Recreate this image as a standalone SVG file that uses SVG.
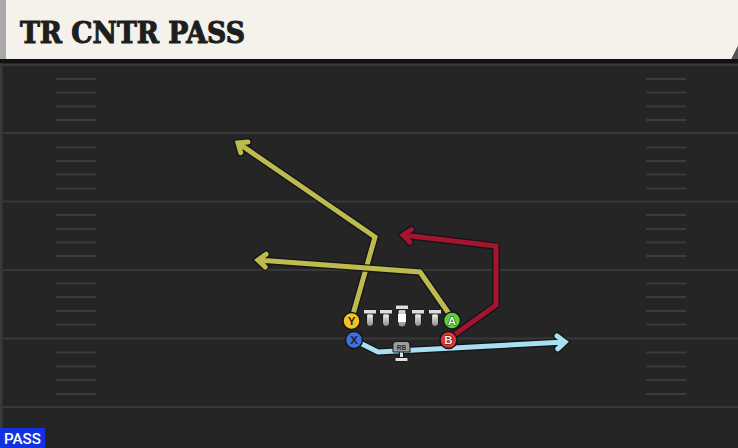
<svg xmlns="http://www.w3.org/2000/svg" width="738" height="448" viewBox="0 0 738 448">
<defs>
<linearGradient id="body" x1="0" y1="0" x2="0" y2="1">
<stop offset="0" stop-color="#d8d8d8"/>
<stop offset="0.5" stop-color="#c4c4c4"/>
<stop offset="1" stop-color="#8c8c8c"/>
</linearGradient>
<style>
.yard{stroke:#383838;stroke-width:2}
.hash{stroke:#3b3b3b;stroke-width:2}
.out{fill:none;stroke:#121218;stroke-width:7.5;stroke-linejoin:miter;stroke-linecap:round}
.rt{fill:none;stroke-width:5;stroke-linejoin:miter;stroke-linecap:round}
.yel{stroke:#bdbb4e}
.red{stroke:#a5142e}
.blu{stroke:#a8e0f0}
.pc{stroke:#15151c;stroke-width:1.5}
.pl{font-family:"Liberation Sans",Arial,sans-serif;font-weight:bold;font-size:11.5px;text-anchor:middle}
.ol{fill:#dedede;stroke:#1a1a1a;stroke-width:1}
.ob{fill:url(#body);stroke:#1a1a1a;stroke-width:1}
</style>
</defs>
<rect x="0" y="0" width="738" height="448" fill="#252525"/>
<rect x="0" y="60" width="2.5" height="388" fill="#3a3a3a"/>
<g id="header">
<path d="M0 0 H738 V46 L731 60 H0 Z" fill="#f5f2eb"/>
<rect x="0" y="0" width="6" height="60" fill="#a9aaa8"/>
<path d="M731 60 L738 46 V62 Z" fill="#555"/>
<rect x="0" y="59" width="738" height="4" fill="#121212"/>
<text x="20" y="43" font-family="'DejaVu Serif','Liberation Serif',serif" font-weight="bold" font-size="29" fill="#1e1e1e" stroke="#1e1e1e" stroke-width="1.1" textLength="225" lengthAdjust="spacingAndGlyphs">TR CNTR PASS</text>
</g>
<g id="field">
<line class="yard" x1="0" y1="65" x2="738" y2="65"/>
<line class="yard" x1="0" y1="133" x2="738" y2="133"/>
<line class="yard" x1="0" y1="201.5" x2="738" y2="201.5"/>
<line class="yard" x1="0" y1="270" x2="738" y2="270"/>
<line class="yard" x1="0" y1="338.5" x2="738" y2="338.5"/>
<line class="yard" x1="0" y1="407" x2="738" y2="407"/>
<g id="hash-left">
<path class="hash" d="M56 79H96M56 92.5H96M56 106.5H96M56 120H96M56 147.5H96M56 161H96M56 174.5H96M56 188.5H96M56 215H96M56 229H96M56 242.5H96M56 256H96M56 283.5H96M56 297H96M56 311H96M56 324.5H96M56 352.5H96M56 366.5H96M56 380H96M56 394H96"/>
</g>
<g id="hash-right">
<path class="hash" d="M646 79H686M646 92.5H686M646 106.5H686M646 120H686M646 147.5H686M646 161H686M646 174.5H686M646 188.5H686M646 215H686M646 229H686M646 242.5H686M646 256H686M646 283.5H686M646 297H686M646 311H686M646 324.5H686M646 352.5H686M646 366.5H686M646 380H686M646 394H686"/>
</g>
</g>
<g id="connectors">
<g id="route-y">
<path class="out" d="M352 318 L375 237 L238 143 M240.7 152.6 L238 143 L248 142"/>
<path class="rt yel" d="M352 318 L375 237 L238 143 M240.7 152.6 L238 143 L248 142"/>
</g>
<g id="route-a">
<path class="out" d="M452 318 L420 272 L258 260 M265.2 267 L258 260 L266.1 254.2"/>
<path class="rt yel" d="M452 318 L420 272 L258 260 M265.2 267 L258 260 L266.1 254.2"/>
</g>
<g id="route-b">
<path class="out" d="M450 338 L496 305 L496 246 L403 235 M409.9 242.3 L403 235 L411.4 229.5"/>
<path class="rt red" d="M450 338 L496 305 L496 246 L403 235 M409.9 242.3 L403 235 L411.4 229.5"/>
</g>
<g id="route-x">
<path class="out" d="M356 341 L378 352 L565 342 M557.7 348.8 L565 342 L557 336"/>
<path class="rt blu" d="M356 341 L378 352 L565 342 M557.7 348.8 L565 342 L557 336"/>
</g>
</g>
<g id="line">
<g id="lt"><rect class="ob" x="366.5" y="312" width="7" height="14.5" rx="3.5"/><rect class="ol" x="363.5" y="309.5" width="13" height="4.5" rx="1"/><rect x="368" y="314.5" width="4" height="3" fill="#e4e4e4"/></g>
<g id="lg"><rect class="ob" x="382.5" y="312" width="7" height="14.5" rx="3.5"/><rect class="ol" x="379.5" y="309.5" width="13" height="4.5" rx="1"/><rect x="384" y="314.5" width="4" height="3" fill="#e4e4e4"/></g>
<g id="c"><rect class="ob" x="398" y="308" width="8" height="19" rx="3.5"/><rect class="ol" x="395.5" y="305" width="13" height="4.5" rx="1"/><rect x="398" y="314" width="8" height="8" fill="#ffffff"/></g>
<g id="rg"><rect class="ob" x="414.5" y="312" width="7" height="14.5" rx="3.5"/><rect class="ol" x="411.5" y="309.5" width="13" height="4.5" rx="1"/><rect x="416" y="314.5" width="4" height="3" fill="#e4e4e4"/></g>
<g id="rt"><rect class="ob" x="431.5" y="312" width="7" height="14.5" rx="3.5"/><rect class="ol" x="428.5" y="309.5" width="13" height="4.5" rx="1"/><rect x="433" y="314.5" width="4" height="3" fill="#e4e4e4"/></g>
</g>
<g id="rb">
<rect class="ol" x="399.5" y="350" width="4" height="8"/>
<rect class="ol" x="395" y="357.5" width="13" height="4" rx="1"/>
<path d="M393 344 Q393 341.5 397 341.5 H406 Q410 341.5 410 346 V352 H393 Z" fill="#9c9c9c" stroke="#1a1a1a" stroke-width="1"/>
<text x="401.5" y="350" font-family="'Liberation Sans',Arial,sans-serif" font-weight="bold" font-size="6.5" text-anchor="middle" fill="#2a2a2a">RB</text>
</g>
<g id="player-y"><circle class="pc" cx="351.5" cy="321" r="8.5" fill="#f3c419"/><text class="pl" x="351.5" y="325.2" fill="#1b2040">Y</text></g>
<g id="player-x"><circle class="pc" cx="354" cy="340" r="8.5" fill="#3f72d6"/><text class="pl" x="354" y="344.2" fill="#1b2040">X</text></g>
<g id="player-a"><circle class="pc" cx="452" cy="320.5" r="8.5" fill="#5fcf35"/><text class="pl" x="452" y="324.7" fill="#e9ffe0" stroke="#1d4010" stroke-width="1.2" paint-order="stroke">A</text></g>
<g id="player-b"><circle class="pc" cx="448.5" cy="340" r="8.5" fill="#e23536"/><text class="pl" x="448.5" y="344.2" fill="#ffe8e8" stroke="#5a0c10" stroke-width="1.2" paint-order="stroke">B</text></g>
<g id="tag">
<rect x="0" y="428" width="45" height="20" fill="#1231e0"/>
<text x="4" y="444" font-family="Roboto,'Liberation Sans',sans-serif" font-weight="500" font-size="14.5" fill="#ffffff" textLength="37" lengthAdjust="spacingAndGlyphs">PASS</text>
</g>
</svg>
